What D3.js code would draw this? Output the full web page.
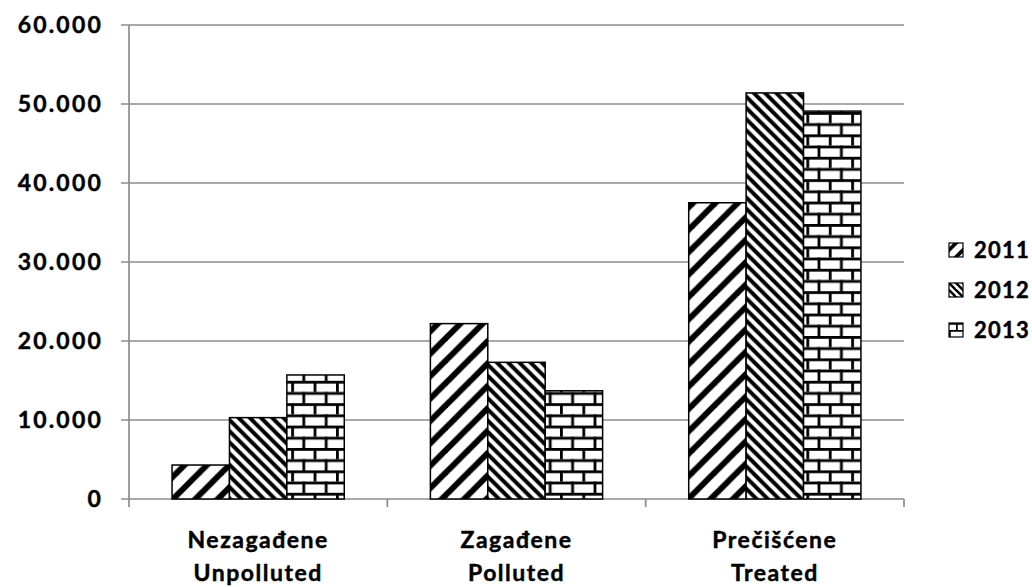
<!DOCTYPE html>
<html>
<head>
<meta charset="utf-8">
<script src="https://cdn.jsdelivr.net/npm/d3@7"></script>
<style>
  body { margin: 0; background: #fff; }
  text { font-family: Lato, "Open Sans", sans-serif; font-weight: 700; fill: #000; stroke: #000; stroke-width: 0.45px; }
</style>
</head>
<body>
<svg id="chart" width="1032" height="587"></svg>
<script>
const categories = [['Nezagađene', 'Unpolluted'], ['Zagađene', 'Polluted'], ['Prečišćene', 'Treated']];
const years = ['2011', '2012', '2013'];
const values2011 = [4300, 22200, 37500];
const values2012 = [10300, 17300, 51400];
const values2013 = [15700, 13700, 49100];
const yTicks = [0, 10000, 20000, 30000, 40000, 50000, 60000];

const series = [values2011, values2012, values2013];
const catKeys = categories.map((c) => c[0]);

const svg = d3.select('#chart');
const margin = { left: 129, right: 904, top: 25, bottom: 499 };

const locale = d3.formatLocale({ decimal: ',', thousands: '.', grouping: [3], currency: ['', ''] });
const fmt = locale.format(',');

// Excel-style fill patterns, tile scaled up from 8px
function addPatterns(defs, id, scale) {
  const s = 8 * scale;

  const up = defs.append('pattern').attr('id', `up${id}`)
    .attr('patternUnits', 'userSpaceOnUse').attr('width', s).attr('height', s);
  up.append('rect').attr('width', s).attr('height', s).attr('fill', '#fff');
  [[0, s, s, 0], [-s / 2, s / 2, s / 2, -s / 2], [s / 2, 1.5 * s, 1.5 * s, s / 2]].forEach((l) => {
    up.append('line').attr('x1', l[0]).attr('y1', l[1]).attr('x2', l[2]).attr('y2', l[3])
      .attr('stroke', '#000').attr('stroke-width', 3 * scale / Math.SQRT2);
  });

  const h = 4 * scale;
  const down = defs.append('pattern').attr('id', `down${id}`)
    .attr('patternUnits', 'userSpaceOnUse').attr('width', h).attr('height', h);
  down.append('rect').attr('width', h).attr('height', h).attr('fill', '#fff');
  [[0, 0, h, h], [-h / 2, h / 2, h / 2, 1.5 * h], [h / 2, -h / 2, 1.5 * h, h / 2]].forEach((l) => {
    down.append('line').attr('x1', l[0]).attr('y1', l[1]).attr('x2', l[2]).attr('y2', l[3])
      .attr('stroke', '#000').attr('stroke-width', 2 * scale / Math.SQRT2);
  });

  const brick = defs.append('pattern').attr('id', `brick${id}`)
    .attr('patternUnits', 'userSpaceOnUse').attr('width', s).attr('height', s);
  brick.append('rect').attr('width', s).attr('height', s).attr('fill', '#fff');
  const lw = scale;
  brick.append('rect').attr('x', 0).attr('y', 0).attr('width', s).attr('height', lw).attr('fill', '#000');
  brick.append('rect').attr('x', 0).attr('y', s / 2).attr('width', s).attr('height', lw).attr('fill', '#000');
  brick.append('rect').attr('x', 0).attr('y', 0).attr('width', lw).attr('height', s / 2).attr('fill', '#000');
  brick.append('rect').attr('x', s / 2).attr('y', s / 2).attr('width', lw).attr('height', s / 2).attr('fill', '#000');
}

const defs = svg.append('defs');
addPatterns(defs, 'Big', 2.8);
addPatterns(defs, 'Small', 1.75);
const fills = ['up', 'down', 'brick'];

const x = d3.scaleBand().domain(catKeys).range([margin.left, margin.right]);
const xs = d3.scaleBand().domain(years).range([0, x.bandwidth()]).paddingOuter(0.75);
const y = d3.scaleLinear().domain([0, 60000]).range([margin.bottom, margin.top]);

// gridlines
svg.append('g').selectAll('line').data(yTicks).join('line')
  .attr('x1', margin.left - 8).attr('x2', margin.right)
  .attr('y1', (d) => y(d)).attr('y2', (d) => y(d))
  .attr('stroke', '#8c8c8c').attr('stroke-width', 1.7);

// y axis line
svg.append('line').attr('x1', margin.left).attr('x2', margin.left)
  .attr('y1', margin.top).attr('y2', margin.bottom)
  .attr('stroke', '#8c8c8c').attr('stroke-width', 1.7);

// x axis ticks
const boundaries = catKeys.map((c) => x(c)).concat([margin.right]);
svg.append('g').selectAll('line').data(boundaries).join('line')
  .attr('x1', (d) => d).attr('x2', (d) => d)
  .attr('y1', margin.bottom).attr('y2', margin.bottom + 8)
  .attr('stroke', '#8c8c8c').attr('stroke-width', 1.7);

// y tick labels
svg.append('g').selectAll('text').data(yTicks).join('text')
  .attr('x', 103).attr('y', (d) => y(d)).attr('dy', '0.36em')
  .attr('text-anchor', 'end').style('font-size', '23px').style('letter-spacing', '2.2px')
  .text((d) => fmt(d));

// bars
series.forEach((vals, i) => {
  svg.append('g').selectAll('rect').data(vals).join('rect')
    .attr('x', (d, j) => x(catKeys[j]) + xs(years[i]))
    .attr('y', (d) => y(d))
    .attr('width', xs.bandwidth())
    .attr('height', (d) => y(0) - y(d))
    .attr('fill', `url(#${fills[i]}Big)`)
    .attr('stroke', '#000').attr('stroke-width', 1.5);
});

// category labels
const catG = svg.append('g').selectAll('text').data(categories).join('text')
  .attr('text-anchor', 'middle').style('font-size', '23px').style('letter-spacing', '1.5px');
catG.append('tspan').attr('x', (d) => x(d[0]) + x.bandwidth() / 2).attr('y', 548).text((d) => d[0]);
catG.append('tspan').attr('x', (d) => x(d[0]) + x.bandwidth() / 2).attr('y', 581).text((d) => d[1]);

// legend
const leg = svg.append('g').selectAll('g').data(years).join('g')
  .attr('transform', (d, i) => `translate(949, ${250 + i * 40})`);
leg.append('rect').attr('x', 0).attr('y', -7).attr('width', 14).attr('height', 14)
  .attr('fill', (d, i) => `url(#${fills[i]}Small)`).attr('stroke', '#000').attr('stroke-width', 1.2);
leg.append('text').attr('x', 25).attr('dy', '0.36em')
  .style('font-size', '22px').style('letter-spacing', '1.2px').text((d) => d);
</script>
</body>
</html>
